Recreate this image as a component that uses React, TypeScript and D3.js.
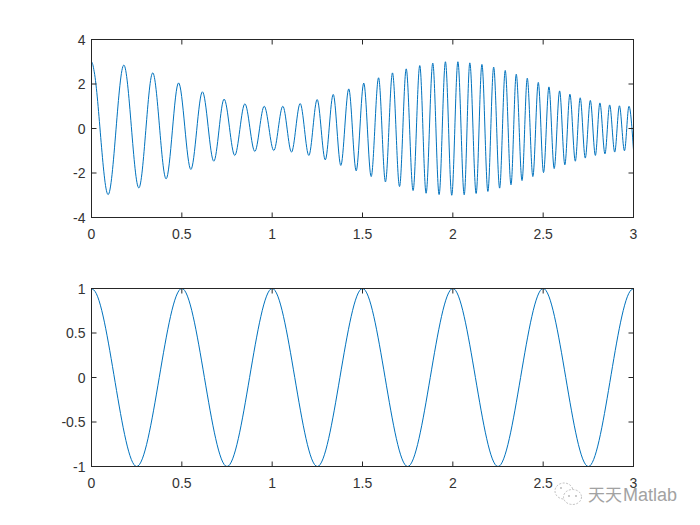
import React from "react";
import * as d3 from "d3";

const upperTimes = [0,0.007,0.015,0.092,0.179,0.262,0.339,0.413,0.482,0.55,0.614,0.677,0.734,0.793,0.849,0.904,0.956,1.009,1.059,1.107,1.155,1.203,1.249,1.294,1.338,1.38,1.424,1.465,1.507,1.548,1.589,1.627,1.666,1.705,1.742,1.78,1.817,1.852,1.889,1.924,1.959,1.994,2.028,2.063,2.094,2.129,2.161,2.194,2.226,2.259,2.29,2.322,2.351,2.383,2.412,2.443,2.473,2.502,2.532,2.561,2.591,2.62,2.648,2.678,2.705,2.733,2.761,2.789,2.814,2.842,2.868,2.896,2.922,2.95,2.975,3];
const upperValues = [3,2.88,2.55,-2.97,2.85,-2.67,2.5,-2.26,2.05,-1.84,1.65,-1.47,1.32,-1.21,1.11,-1.03,1,-0.99,1,-1.06,1.12,-1.21,1.3,-1.41,1.53,-1.66,1.78,-1.9,2.04,-2.16,2.28,-2.4,2.5,-2.61,2.68,-2.79,2.83,-2.91,2.94,-2.97,3,-3,3,-2.98,2.95,-2.92,2.88,-2.83,2.76,-2.68,2.61,-2.53,2.44,-2.34,2.26,-2.16,2.07,-1.98,1.87,-1.8,1.69,-1.63,1.54,-1.47,1.38,-1.33,1.26,-1.21,1.15,-1.14,1.06,-1.06,1.02,-1,1,-0.97];
const lowerTimes = [0,0.012,0.25,0.5,0.75,1,1.25,1.5,1.75,2,2.25,2.5,2.75,2.988,3];
const lowerValues = [1,0.985,-1,1,-1,1,-1,1,-1,1,-1,1,-1,0.985,1];

const xTicks = [0,0.5,1,1.5,2,2.5,3];
const upperTicks = [-4,-2,0,2,4];
const lowerTicks = [-1,-0.5,0,0.5,1];

const LINE = "#0072BD";
const INK = "#262626";
const FONT = "'Liberation Sans', Arial, sans-serif";
const x0 = 91.5, x1 = 633.5;

function Panel({ id, times, values, yDomain, yTicks, top, bottom }: any) {
  const x = d3.scaleLinear().domain([0, 3]).range([x0, x1]);
  const y = d3.scaleLinear().domain(yDomain).range([bottom, top]);
  const path = d3.line<number>()
    .x((_, i) => x(times[i]))
    .y((v) => y(v))
    .curve(d3.curveMonotoneX)(values) as string;
  return (
    <g fontFamily={FONT} fontSize={14} fill="#333">
      <clipPath id={id}><rect x={x0} y={top - 1} width={x1 - x0} height={bottom - top + 2} /></clipPath>
      <path d={path} fill="none" stroke={LINE} strokeWidth={1} clipPath={`url(#${id})`} />
      <rect x={x0} y={top} width={x1 - x0} height={bottom - top} fill="none" stroke={INK} strokeWidth={1} />
      {xTicks.map((t) => (
        <g key={t}>
          <line x1={x(t)} x2={x(t)} y1={bottom} y2={bottom - 5} stroke={INK} />
          <line x1={x(t)} x2={x(t)} y1={top} y2={top + 5} stroke={INK} />
          <text x={x(t)} y={bottom + 21} textAnchor="middle">{t}</text>
        </g>
      ))}
      {yTicks.map((t: number) => (
        <g key={t}>
          <line x1={x0} x2={x0 + 5} y1={y(t)} y2={y(t)} stroke={INK} />
          <line x1={x1} x2={x1 - 5} y1={y(t)} y2={y(t)} stroke={INK} />
          <text x={x0 - 6} y={y(t) + 5} textAnchor="end">{t}</text>
        </g>
      ))}
    </g>
  );
}

export default function App() {
  return (
    <svg width={700} height={525} style={{ position: "absolute", left: 0, top: 0, background: "#fff" }}>
      <Panel id="c1" times={upperTimes} values={upperValues} yDomain={[-4, 4]} yTicks={upperTicks} top={39.5} bottom={217.5} />
      <Panel id="c2" times={lowerTimes} values={lowerValues} yDomain={[-1, 1]} yTicks={lowerTicks} top={288.5} bottom={466.5} />
      <g opacity={0.8}>
        <g fill="none" stroke="#a0a0a0" strokeWidth={0.8} strokeDasharray="2 1.5">
          <ellipse cx={564} cy={491} rx={9} ry={8} />
          <ellipse cx={572.5} cy={497} rx={9} ry={7.5} fill="#fff" />
        </g>
        <g fill="#a0a0a0">
          <circle cx={569} cy={496} r={0.9} />
          <circle cx={576} cy={496} r={0.9} />
          <circle cx={561} cy={488} r={0.9} />
        </g>
        <text x={588} y={501} fontFamily="'Noto Sans CJK SC', sans-serif" fontSize={17} fill="#8c8c8c">天天</text>
        <text x={623} y={501} fontFamily={FONT} fontSize={18} fill="#8c8c8c">Matlab</text>
      </g>
    </svg>
  );
}
